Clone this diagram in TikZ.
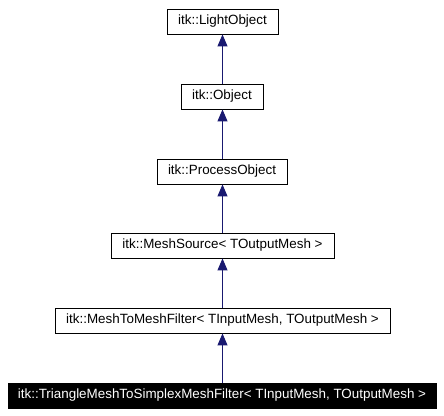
\documentclass[tikz,border=0pt]{standalone}
\usepackage{fontspec}
\setmainfont{Liberation Sans}
\usetikzlibrary{arrows.meta}
\begin{document}
\begin{tikzpicture}[x=1pt,y=-1pt,
  cls/.style={draw=black,line width=0.9pt,fill=white,minimum height=25pt,inner sep=0pt,
    font=\fontsize{13.4}{15}\selectfont},
  cur/.style={cls,fill=black,text=white},
  inh/.style={draw=midnight,line width=1pt,-{Triangle[width=10pt,length=12pt]}}]
\definecolor{midnight}{HTML}{191970}
\useasboundingbox (0,0) rectangle (444,415);
\node[cls,minimum width=111pt] (lo) at (222.5,21.5) {itk::LightObject};
\node[cls,minimum width=82pt] (ob) at (222,96.5) {itk::Object};
\node[cls,minimum width=130pt] (po) at (222,171.5) {itk::ProcessObject};
\node[cls,minimum width=223pt] (ms) at (222.5,245.5) {itk::MeshSource< TOutputMesh >};
\node[cls,minimum width=335pt] (mm) at (222.5,320.5) {itk::MeshToMeshFilter< TInputMesh, TOutputMesh >};
\node[cur,minimum width=428pt] (tr) at (222,395.5) {itk::TriangleMeshToSimplexMeshFilter< TInputMesh, TOutputMesh >};
\draw[inh] (ob.north -| lo.south) -- (lo.south);
\draw[inh] (po.north -| lo.south) -- (ob.south -| lo.south);
\draw[inh] (ms.north -| lo.south) -- (po.south -| lo.south);
\draw[inh] (mm.north -| lo.south) -- (ms.south -| lo.south);
\draw[inh] (tr.north -| lo.south) -- (mm.south -| lo.south);
\end{tikzpicture}
\end{document}
